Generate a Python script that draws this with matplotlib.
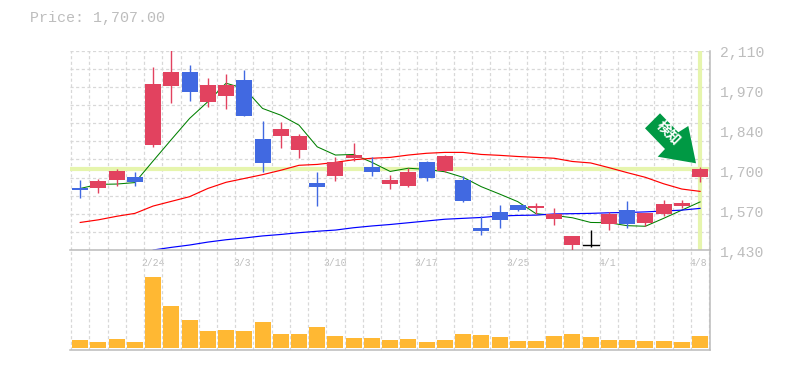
import matplotlib
matplotlib.use('Agg')
import matplotlib.pyplot as plt
from matplotlib.patches import Polygon
import numpy as np

# price data, one row per session
opens = [1641, 1641, 1669, 1679, 1788, 1989, 2037, 1935, 1955, 2010, 1809, 1819, 1771, 1658, 1682, 1744, 1713, 1655,
         1648, 1730, 1699, 1669, 1505, 1560, 1583, 1573, 1536, 1447, 1446, 1519, 1566, 1522, 1553, 1580, 1679]
closes = [1635, 1665, 1699, 1662, 1996, 2037, 1969, 1993, 1993, 1887, 1727, 1843, 1819, 1645, 1730, 1754, 1696, 1669,
          1696, 1676, 1751, 1597, 1495, 1532, 1566, 1580, 1553, 1478, 1445, 1553, 1519, 1556, 1587, 1590, 1707]
highs = [1669, 1672, 1706, 1696, 2054, 2112, 2061, 2017, 2030, 2044, 1870, 1867, 1826, 1696, 1747, 1795, 1747, 1686,
         1709, 1734, 1754, 1682, 1546, 1583, 1583, 1590, 1573, 1478, 1498, 1560, 1597, 1556, 1600, 1600, 1713]
lows = [1607, 1624, 1648, 1648, 1781, 1931, 1938, 1918, 1911, 1887, 1696, 1778, 1744, 1580, 1665, 1734, 1682, 1638,
        1645, 1665, 1696, 1594, 1481, 1505, 1563, 1553, 1515, 1426, 1441, 1498, 1506, 1512, 1546, 1573, 1662]
candle_kind = ['down', 'up', 'up', 'down', 'up', 'up', 'down', 'up', 'up', 'down', 'down', 'up', 'up', 'down', 'up', 'up', 'down', 'up',
               'up', 'down', 'up', 'down', 'down', 'down', 'down', 'up', 'up', 'up', 'flat', 'up', 'down', 'up', 'up', 'up', 'up']

ma_short = [1640, 1654, 1655, 1660, 1734, 1807, 1879, 1936, 1999, 1981, 1913, 1890, 1856, 1782, 1754, 1756, 1729, 1698,
            1709, 1705, 1697, 1678, 1646, 1621, 1595, 1554, 1548, 1540, 1524, 1523, 1513, 1511, 1538, 1566, 1594]
ma_mid = [1524, 1533, 1545, 1555, 1580, 1596, 1612, 1640, 1661, 1674, 1687, 1702, 1719, 1722, 1729, 1738, 1743, 1746,
          1754, 1760, 1763, 1763, 1756, 1753, 1749, 1746, 1743, 1732, 1727, 1711, 1694, 1678, 1656, 1638, 1630]
ma_long = [None, None, None, None, 1430, 1439, 1447, 1457, 1465, 1471, 1478, 1483, 1489, 1494, 1498, 1506, 1512, 1517,
           1523, 1529, 1535, 1538, 1541, 1546, 1548, 1549, 1553, 1554, 1555, 1557, 1558, 1560, 1563, 1566, 1572]
volume = [25, 19, 28, 19, 214, 127, 85, 52, 55, 52, 79, 43, 43, 64, 37, 31, 31, 25,
          28, 19, 25, 43, 40, 34, 22, 22, 37, 43, 34, 25, 25, 22, 22, 19, 37]

price_labels = ['1,430', '1,570', '1,700', '1,840', '1,970', '2,110']
date_pos = [4, 8.9, 14, 19, 24, 28.9, 33.9]
date_labels = ['2/24', '3/3', '3/10', '3/17', '3/25', '4/1', '4/8']
last_price = 1707

RED = '#e2425f'
BLUE = '#4169e1'
GRID = '#d8d8d8'
AXIS = '#bbbbbb'
TEXT = '#bdbdbd'
HILITE = '#e6f5ad'
MONO = 'Liberation Mono'
DASH = (0, (2.5, 2))
W, H = 785, 370

fig = plt.figure(figsize=(W / 100, H / 100), dpi=100)
ax = fig.add_axes([70.3 / W, 1 - 250 / H, 639.7 / W, 199.3 / H])
vol = fig.add_axes([70.3 / W, 1 - 350 / H, 639.7 / W, 100 / H], facecolor='none')

x = np.arange(len(opens))
colors = {'up': RED, 'down': BLUE, 'flat': 'black'}
candle_colors = [colors[k] for k in candle_kind]
bottoms = np.minimum(opens, closes)
heights = np.abs(np.array(closes) - np.array(opens))

for a in (ax, vol):
    a.set_xlim(-0.545, 34.545)
    a.set_xticks(np.append(x - 0.5, 34.5))
    a.grid(True, axis='x', which='major', color=GRID, lw=0.9, ls=DASH)
    a.set_axisbelow(True)
    a.spines['top'].set_visible(False)
    a.spines['left'].set_visible(False)
    a.spines['right'].set_color(AXIS)
    a.spines['bottom'].set_color(AXIS)
    a.spines['right'].set_linewidth(1.1)
    a.spines['bottom'].set_linewidth(1.1)
    a.tick_params(which='both', length=0, labelbottom=False, labelleft=False)

# price panel
ax.set_ylim(1430, 2110)
ax.set_yticks(np.linspace(1430, 2110, 12))
ax.grid(True, axis='y', color=GRID, lw=0.9, ls=DASH)

ax.axhline(last_price, color=HILITE, lw=3, zorder=1.5)
ax.plot([34, 34], [1437, 2108], color=HILITE, lw=3, zorder=1.5)

ax.plot(x, ma_short, color='#008000', lw=0.75, zorder=2)
ax.plot(x, ma_mid, color='#ff0000', lw=0.85, zorder=2)
ax.plot(x, np.array(ma_long, dtype=float), color='#0000ff', lw=0.85, zorder=2)

ax.vlines(x, lows, highs, colors=candle_colors, lw=1, zorder=3)
ax.bar(x, heights, bottom=bottoms, width=0.88, color=candle_colors, zorder=3.1)
for i in x:
    if candle_kind[i] == 'flat':
        ax.plot([i - 0.44, i + 0.44], [opens[i], opens[i]], color='black', lw=1, zorder=3.1)

# volume panel
vol.set_ylim(-5, 295)
vol.set_yticks([])
vol.bar(x, volume, width=0.88, color='#ffb833', zorder=2)

# right hand price labels and dates
for frac, lab in zip(np.linspace(0, 1, 6), price_labels):
    ax.annotate(lab, xy=(1, frac), xycoords='axes fraction', xytext=(10, -2.5), textcoords='offset pixels',
                ha='left', va='center', family=MONO, fontsize=10.6, color=TEXT)
for pos, lab in zip(date_pos, date_labels):
    ax.annotate(lab, xy=(pos, 1430), xycoords='data', xytext=(0, -13), textcoords='offset pixels',
                ha='center', va='center', family=MONO, fontsize=7, color=TEXT, annotation_clip=False)

fig.text(29.5 / W, 1 - 18 / H, f'Price: {last_price:,}.00', family=MONO, fontsize=10.8,
         color=TEXT, ha='left', va='center')

# arrow badge, in figure pixels
arrow = [(660, 113.3), (678.3, 132.3), (688.3, 126), (696, 163.3), (657.7, 156.7), (665, 149), (645, 128.3)]
fig.add_artist(Polygon([(px / W, 1 - py / H) for px, py in arrow], closed=True, transform=fig.transFigure,
                       facecolor='#009944', edgecolor='none', zorder=5))
fig.text(668 / W, 1 - 133 / H, '検知', family=['Noto Sans CJK JP', 'DejaVu Sans'], fontsize=10, fontweight='bold', color='white',
         rotation=-45, rotation_mode='anchor', ha='center', va='center', zorder=6)

fig.savefig('out.png', dpi=100)
